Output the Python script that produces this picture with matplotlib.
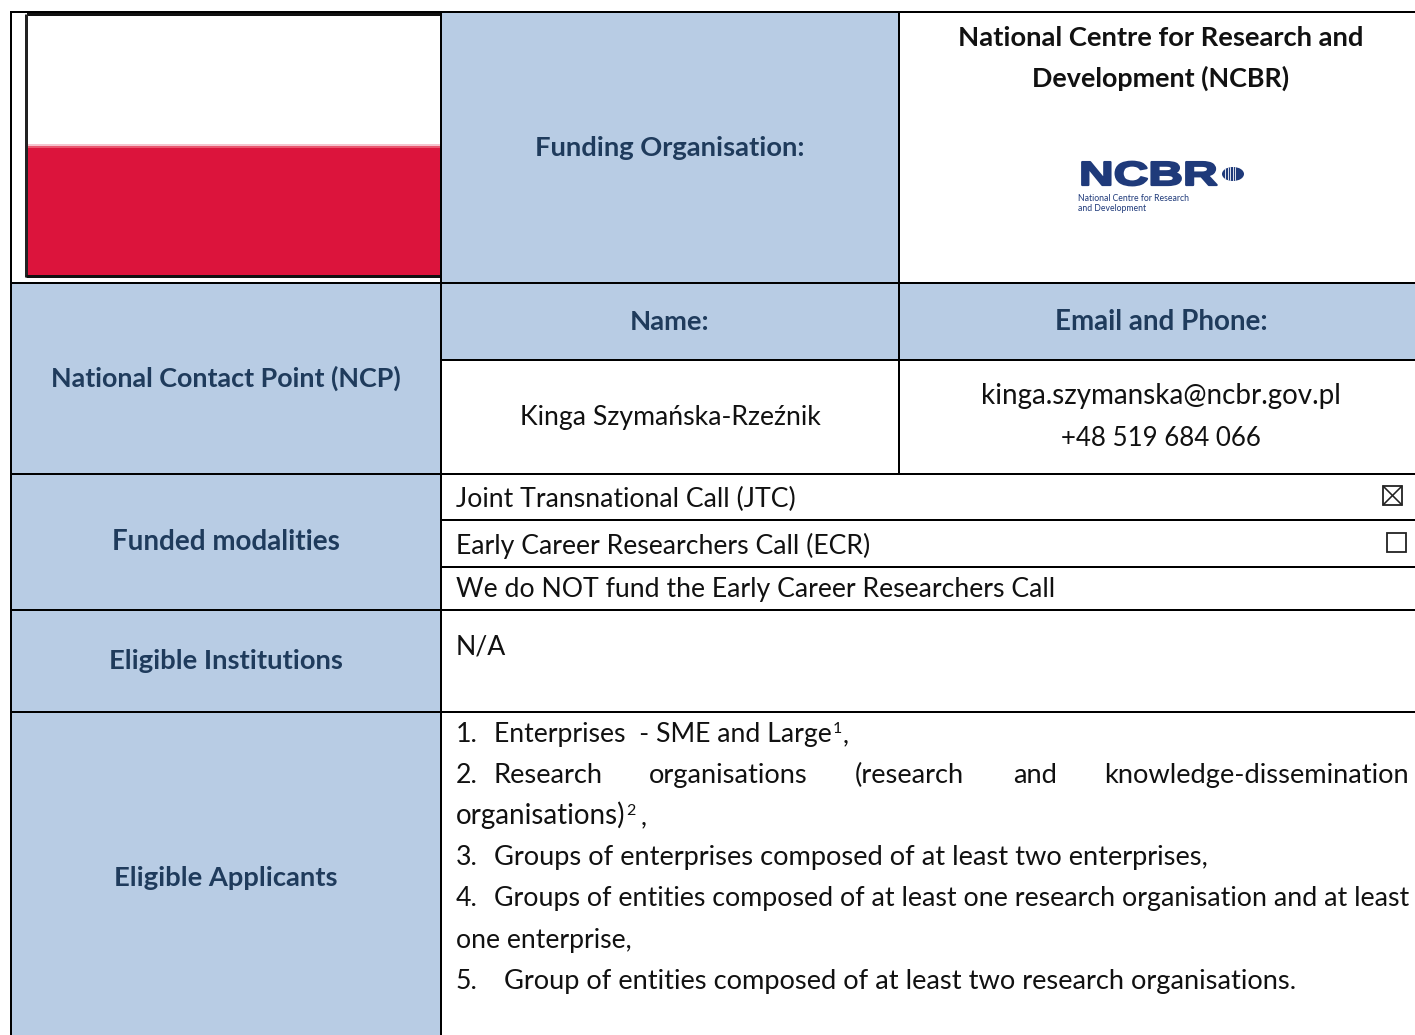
import matplotlib
matplotlib.use('Agg')
import matplotlib.pyplot as plt
from matplotlib.patches import Rectangle, Ellipse
from matplotlib.patheffects import AbstractPathEffect
from matplotlib.transforms import Affine2D

W, H = 1415, 1035
BLUE = '#b8cce4'
DARK = '#1f3b5c'
LOGO = '#1f3a7a'

plt.rcParams['font.family'] = ['Lato', 'DejaVu Sans']

row_heads = ['National Contact Point (NCP)', 'Funded modalities', 'Eligible Institutions', 'Eligible Applicants']
funding_head = 'Funding Organisation:'
funder_name = ['National Centre for Research and', 'Development (NCBR)']
contact_heads = ['Name:', 'Email and Phone:']
contact_name = 'Kinga Szymańska-Rzeźnik'
contact_info = ['kinga.szymanska@ncbr.gov.pl', '+48 519 684 066']
modalities = ['Joint Transnational Call (JTC)', 'Early Career Researchers Call (ECR)',
              'We do NOT fund the Early Career Researchers Call']
institutions = 'N/A'
justified_words = ['Research', 'organisations', '(research', 'and', 'knowledge-dissemination']

fig = plt.figure(figsize=(W / 100, H / 100), dpi=100)
ax = fig.add_axes([0, 0, 1, 1])
ax.set_xlim(0, W)
ax.set_ylim(H, 0)
ax.axis('off')


# stretches and thickens the logo lettering, the text stays real text
class Stretch(AbstractPathEffect):
    def __init__(self, sx, lw):
        super().__init__()
        self.sx = sx
        self.lw = lw

    def draw_path(self, renderer, gc, tpath, affine, rgbFace=None):
        gc0 = renderer.new_gc()
        gc0.copy_properties(gc)
        gc0.set_linewidth(self.lw)
        gc0.set_foreground(LOGO)
        renderer.draw_path(gc0, tpath, Affine2D().scale(self.sx, 1) + affine, rgbFace)
        gc0.restore()


def box(x0, y0, x1, y1, color):
    ax.add_patch(Rectangle((x0, y0), x1 - x0, y1 - y0, fc=color, ec='none', zorder=1))


def line(x0, y0, x1, y1, lw=2, color='black'):
    ax.plot([x0, x1], [y0, y1], color=color, lw=lw * 0.72, solid_capstyle='butt', zorder=3)


# y is the middle of the capitals, so every line sits on the same baseline
def txt(x, y, s, size=19.2, ha='left', **kw):
    ax.text(x, y + 9, s, fontsize=size, ha=ha, va='baseline', color=kw.pop('color', '#111111'), zorder=4, **kw)


def head(x, y, s, size=19.7):
    txt(x, y, s, size=size, ha='center', color=DARK, fontweight='bold')


# shaded cells
box(442, 13, 899, 283, BLUE)
box(442, 283, W, 360, BLUE)
box(12, 283, 441, H, BLUE)

# flag
box(27, 15, 441, 144, 'white')
box(27, 144, 441, 146, '#f6c4cf')
box(27, 146, 441, 148, '#e8566f')
box(27, 148, 441, 276, '#dc143c')
line(27, 14, 441, 14, lw=4, color='#111111')
line(26, 14, 26, 277, lw=3, color='#222222')
line(26, 276, 441, 276, lw=3, color='#111111')

# grid
for y in [12, 283, 474, 610, 712]:
    line(11, y, W, y)
for y in [360, 520, 567]:
    line(441, y, W, y)
line(11, 11, 11, H)
line(441, 11, 441, H)
line(899, 11, 899, 474)

# header text
head(670, 147, funding_head)
txt(1161, 37, funder_name[0], size=19.7, ha='center', fontweight='bold')
txt(1161, 78, funder_name[1], size=19.4, ha='center', fontweight='bold')
head(670, 321, contact_heads[0])
head(1161, 321, contact_heads[1], size=20)
for y, s, size in zip([378, 541, 660, 877], row_heads, [19.35, 20, 19.7, 19.7]):
    head(226, y, s, size=size)

# logo
ax.text(1079, 185, 'NCBR', fontsize=24, fontweight='bold', color=LOGO, ha='left', va='baseline',
        family='Liberation Sans', zorder=4, path_effects=[Stretch(1.44, 1.6)])
oval = Ellipse((1233, 174), 22, 14, fc=LOGO, ec='none', zorder=4)
ax.add_patch(oval)
for x in [1225, 1227.5, 1230, 1232.5, 1235]:
    ax.plot([x, x], [166, 182], color='white', lw=0.6, zorder=5, clip_path=oval)
txt(1078, 192, 'National Centre for Research', size=6.2, color=LOGO)
txt(1078, 202, 'and Development', size=6.2, color=LOGO)

# contact
txt(670, 416, contact_name, ha='center')
txt(1161, 395, contact_info[0], size=20, ha='center')
txt(1161, 437, contact_info[1], size=18.6, ha='center')

# modalities
for y, s in zip([498, 545, 588], modalities):
    txt(456, y, s)
ax.add_patch(Rectangle((1383, 486), 19, 19, fc='none', ec='#222222', lw=1.3, zorder=4))
line(1383, 486, 1402, 505, lw=1.6, color='#222222')
line(1383, 505, 1402, 486, lw=1.6, color='#222222')
ax.add_patch(Rectangle((1387, 533), 19, 19, fc='none', ec='#222222', lw=1.3, zorder=4))

txt(456, 645, institutions)

# applicants
txt(456, 733, '1.')
txt(494, 733, 'Enterprises  - SME and Large')
txt(833, 724, '1', size=11.5)
txt(843, 733, ',')
txt(456, 774, '2.')
for x, s in zip([494, 649, 855, 1013, 1104], justified_words):
    txt(x, 774, s, size=19.65)
txt(456, 815, 'organisations)', size=20)
txt(626, 806, '2', size=11.5)
txt(641, 815, ',')
txt(456, 856, '3.')
txt(494, 856, 'Groups of enterprises composed of at least two enterprises,', size=19.6)
txt(456, 897, '4.')
txt(494, 897, 'Groups of entities composed of at least one research organisation and at least', size=19.3)
txt(456, 939, 'one enterprise,')
txt(456, 980, '5.')
txt(504, 980, 'Group of entities composed of at least two research organisations.', size=19.65)

fig.savefig('out.png', dpi=100)
